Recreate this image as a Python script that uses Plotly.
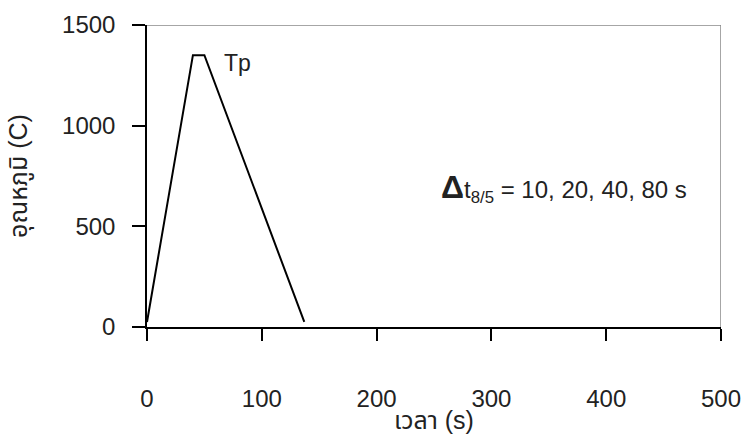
import plotly.graph_objects as go

time_s = [0, 40, 50, 137]
temp_c = [25, 1350, 1350, 25]
x_ticks = [0, 100, 200, 300, 400, 500]
y_ticks = [0, 500, 1000, 1500]

FONT = "Liberation Sans, Arial, Noto Sans Thai, Noto Sans, sans-serif"

fig = go.Figure()
fig.add_trace(go.Scatter(x=time_s, y=temp_c, mode="lines",
                         line=dict(color="black", width=2), showlegend=False,
                         hoverinfo="skip"))

fig.update_layout(
    width=747, height=441,
    margin=dict(l=147, r=26, t=25, b=114),
    paper_bgcolor="white", plot_bgcolor="white",
    font=dict(family=FONT, size=24, color="#222"),
    xaxis=dict(range=[0, 500], tickvals=x_ticks, showgrid=False, zeroline=False,
               automargin=False,
               showline=True, linecolor="black", linewidth=1.5,
               ticks="outside", ticklen=12, tickcolor="black", tickwidth=1.5,
               ticklabelstandoff=37),
    yaxis=dict(range=[0, 1500], tickvals=y_ticks, showgrid=False, zeroline=False,
               automargin=False,
               showline=True, linecolor="black", linewidth=1.5,
               ticks="outside", ticklen=13, tickcolor="black", tickwidth=1.5,
               ticklabelstandoff=12,
               title=dict(text="อุณหภูมิ (C)", standoff=27, font=dict(size=25))),
    shapes=[
        dict(type="line", xref="x", yref="y", x0=0, x1=500, y0=1500, y1=1500,
             line=dict(color="#888", width=1.5)),
        dict(type="line", xref="x", yref="y", x0=500, x1=500, y0=0, y1=1500,
             line=dict(color="#888", width=1.5)),
        dict(type="line", xref="x", yref="paper", x0=500, x1=500, y0=0, y1=-12/302,
             line=dict(color="black", width=1.5)),
    ],
    annotations=[
        dict(x=0.5, y=-93/302, xref="paper", yref="paper", text="เวลา (s)",
             showarrow=False, xanchor="center", yanchor="middle",
             font=dict(size=25)),
        dict(x=65, y=1310, xref="x", yref="y", text="Tp", showarrow=False,
             xanchor="left", yanchor="middle", font=dict(size=23)),
        dict(x=254, y=690, xref="x", yref="y", xanchor="left", yanchor="middle",
             showarrow=False,
             text="<b><span style='font-size:32px'>Δ</span></b>t<sub>8/5</sub> = 10, 20, 40, 80 s",
             font=dict(size=24)),
    ],
)

fig.write_html("out.html")
